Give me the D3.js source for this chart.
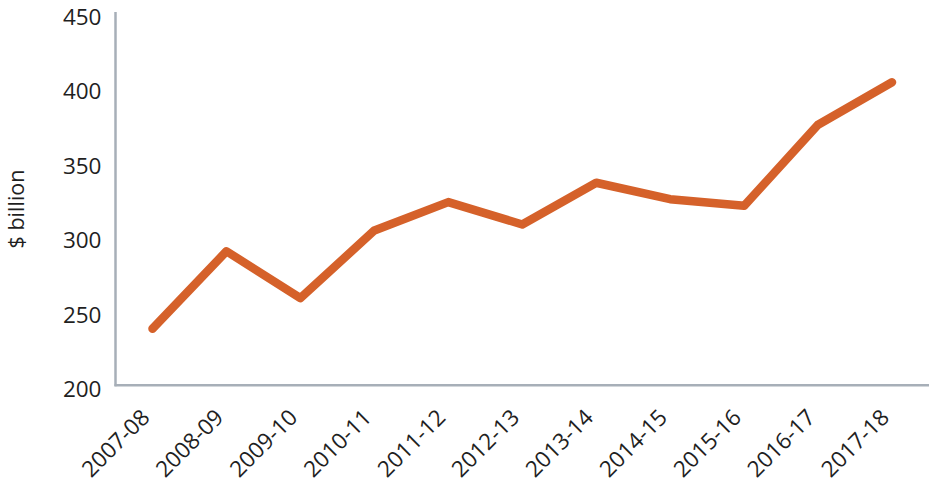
<!DOCTYPE html>
<html>
<head>
<meta charset="utf-8">
<script src="https://d3js.org/d3.v7.min.js"></script>
<style>
  body { margin: 0; background: #fff; }
  text { font-family: "Open Sans", sans-serif; fill: #1f1f1f; }
  .axis path, .axis line { stroke: #a7afb8; stroke-width: 2.5px; }
</style>
</head>
<body>
<svg id="chart" width="940" height="485"></svg>
<script>
const years = ["2007-08", "2008-09", "2009-10", "2010-11", "2011-12", "2012-13",
               "2013-14", "2014-15", "2015-16", "2016-17", "2017-18"];
const values = [238, 290, 258.5, 304, 323, 308, 336, 325, 320.5, 375, 403.5];
const yTicks = [200, 250, 300, 350, 400, 450];

const svg = d3.select("#chart");
const plotLeft = 115.5, plotRight = 929, plotTop = 13, plotBottom = 385.3;

const x = d3.scalePoint().domain(years).range([plotLeft, plotRight]).padding(0.5);
const y = d3.scaleLinear().domain([200, 450]).range([plotBottom, plotTop]);

// y axis
const yAxis = svg.append("g").attr("class", "axis")
  .attr("transform", "translate(" + plotLeft + ",0)")
  .call(d3.axisLeft(y).tickValues(yTicks).tickSize(0).tickPadding(14));
yAxis.select(".domain").attr("d", "M0," + (plotBottom + 1) + "V" + (plotTop - 1));
yAxis.selectAll("text")
  .attr("font-size", 22.5)
  .attr("dy", "0.5em");

// x axis
const xAxis = svg.append("g").attr("class", "axis")
  .attr("transform", "translate(0," + plotBottom + ")")
  .call(d3.axisBottom(x).tickSize(0).tickPadding(0));
xAxis.select(".domain").attr("d", "M" + (plotLeft - 1) + ",0H" + plotRight);
xAxis.selectAll("text")
  .attr("font-size", 22.5)
  .attr("text-anchor", "end")
  .attr("dy", 0)
  .attr("y", 0)
  .attr("transform", "translate(-2,33.5) rotate(-45)");

// y label
svg.append("text")
  .attr("transform", "translate(24,209) rotate(-90)")
  .attr("text-anchor", "middle")
  .attr("font-size", 21.5)
  .text("$ billion");

const line = d3.line()
  .x((d, i) => x(years[i]))
  .y(d => y(d));

svg.append("path")
  .datum(values)
  .attr("d", line)
  .attr("fill", "none")
  .attr("stroke", "#d5612a")
  .attr("stroke-width", 8.5)
  .attr("stroke-linecap", "round")
  .attr("stroke-linejoin", "round");
</script>
</body>
</html>
